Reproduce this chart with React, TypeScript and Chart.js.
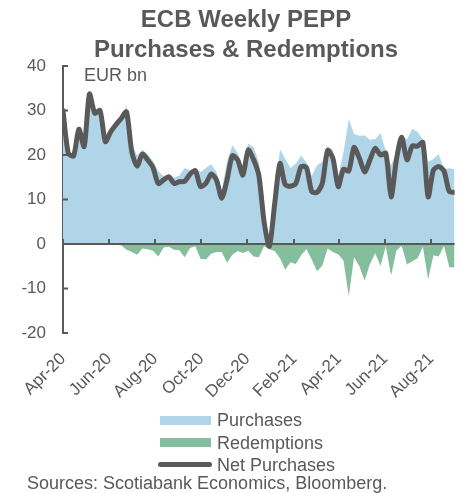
import React, { useEffect, useRef } from 'react';
import { Chart, registerables } from 'chart.js';

Chart.register(...registerables);

// ---- Data ----
const weekDates = [
  '2020-04-03', '2020-04-10', '2020-04-17', '2020-04-24',
  '2020-05-01', '2020-05-08', '2020-05-15', '2020-05-22', '2020-05-29',
  '2020-06-05', '2020-06-12', '2020-06-19', '2020-06-26',
  '2020-07-03', '2020-07-10', '2020-07-17', '2020-07-24', '2020-07-31',
  '2020-08-07', '2020-08-14', '2020-08-21', '2020-08-28',
  '2020-09-04', '2020-09-11', '2020-09-18', '2020-09-25',
  '2020-10-02', '2020-10-09', '2020-10-16', '2020-10-23', '2020-10-30',
  '2020-11-06', '2020-11-13', '2020-11-20', '2020-11-27',
  '2020-12-04', '2020-12-11', '2020-12-18', '2020-12-25',
  '2021-01-01', '2021-01-08', '2021-01-15', '2021-01-22', '2021-01-29',
  '2021-02-05', '2021-02-12', '2021-02-19', '2021-02-26',
  '2021-03-05', '2021-03-12', '2021-03-19', '2021-03-26',
  '2021-04-02', '2021-04-09', '2021-04-16', '2021-04-23', '2021-04-30',
  '2021-05-07', '2021-05-14', '2021-05-21', '2021-05-28',
  '2021-06-04', '2021-06-11', '2021-06-18', '2021-06-25',
  '2021-07-02', '2021-07-09', '2021-07-16', '2021-07-23', '2021-07-30',
  '2021-08-06', '2021-08-13', '2021-08-20', '2021-08-27',
  '2021-09-03',
];

const purchases = [
  30, 20.4, 19.8, 25.8, 21.9, 33.7, 29.4, 30, 23, 25.2,
  27.0, 28.5, 31.0, 22.5, 19.9, 21.2, 20.1, 18.7, 16.4, 15.2,
  15.7, 14.9, 15.4, 17.1, 16.6, 17.0, 16.2, 17.1, 17.9, 16.2,
  12.1, 18.6, 22.2, 20.5, 17.5, 22.6, 21.8, 18.5, 5.5, 0.7,
  10.6, 21.3, 19.1, 17.1, 18.1, 19.9, 18.3, 15.3, 17.7, 18.5,
  22.0, 21.1, 15.2, 20.5, 28.1, 24.7, 24.3, 24.4, 23.4, 23.6,
  24.9, 20.9, 17.7, 20.4, 24.4, 23.5, 25.9, 25.2, 23.4, 18.5,
  19.1, 20.2, 16.8, 17.0, 16.8,
];

const redemptions = [
  0, 0, 0, 0, 0, 0, 0, 0, 0, 0,
  -0.2, -0.3, -1.3, -1.8, -2.4, -1.0, -1.2, -1.5, -2.8, -0.8,
  -0.6, -1.3, -1.4, -3.0, -0.9, -0.5, -3.3, -3.5, -2.2, -1.8,
  -1.8, -4.2, -2.4, -1.6, -2.0, -1.5, -2.8, -3.0, -0.5, -1.2,
  -1.6, -3.2, -5.8, -4.1, -4.5, -2.5, -1.1, -3.5, -6.1, -4.9,
  -1.0, -1.8, -2.3, -3.7, -11.7, -3.0, -5.0, -8.2, -4.5, -2.1,
  -4.9, -0.5, -7.1, -1.5, -0.4, -4.6, -3.9, -3.2, -0.6, -7.9,
  -2.5, -2.8, -0.4, -5.2, -5.2,
];

const netPurchases = [
  30, 20.4, 19.8, 25.8, 21.9, 33.7, 29.4, 30, 23, 25.2,
  26.8, 28.2, 29.7, 20.7, 17.5, 20.2, 18.9, 17.2, 13.6, 14.4,
  15.1, 13.6, 14, 14.1, 15.7, 16.5, 12.9, 13.6, 15.7, 14.4,
  10.3, 14.4, 19.8, 18.9, 15.5, 21.1, 19, 15.5, 5, -0.5,
  9, 18.1, 13.3, 13, 13.6, 17.4, 17.2, 11.8, 11.6, 13.6,
  21, 19.3, 12.9, 16.8, 16.4, 21.7, 19.3, 16.2, 18.9, 21.5,
  20, 20.4, 10.6, 18.9, 24, 18.9, 22, 22, 22.8, 10.6,
  16.6, 17.4, 16.4, 11.8, 11.6,
];

const tickDates = [
  '2020-04-03', '2020-06-03', '2020-08-03', '2020-10-03', '2020-12-03',
  '2021-02-03', '2021-04-03', '2021-06-03', '2021-08-03',
];
const tickLabels = ['Apr-20', 'Jun-20', 'Aug-20', 'Oct-20', 'Dec-20', 'Feb-21', 'Apr-21', 'Jun-21', 'Aug-21'];

const seriesNames = ['Purchases', 'Redemptions', 'Net Purchases'];
const unitLabel = 'EUR bn';
const titleLines = ['ECB Weekly PEPP', 'Purchases & Redemptions'];
const sourceText = 'Sources: Scotiabank Economics, Bloomberg.';

// ---- Styles ----
const GRAY = '#595959';
const BLUE = '#B0D5E9';
const GREEN = '#84BE9C';
const FONT = 'Arial, "Liberation Sans", sans-serif';

const DAY_MS = 86400000;
const t0 = Date.parse(weekDates[0]);
const dayOf = (d: string) => Math.round((Date.parse(d) - t0) / DAY_MS);
const xDays = weekDates.map(dayOf);
const toPoints = (vals: number[]) => vals.map((v, i) => ({ x: xDays[i], y: v }));

const axisPlugin = {
  id: 'excelAxes',
  afterDatasetsDraw(chart: any) {
    const { ctx, chartArea, scales } = chart;
    const xs = scales.x;
    const ys = scales.y;
    const y0 = ys.getPixelForValue(0);
    ctx.save();
    ctx.strokeStyle = GRAY;
    ctx.lineWidth = 2;
    ctx.beginPath();
    ctx.moveTo(chartArea.left, y0);
    ctx.lineTo(chartArea.right, y0);
    tickDates.forEach((d) => {
      const px = Math.round(xs.getPixelForValue(dayOf(d)));
      ctx.moveTo(px, y0);
      ctx.lineTo(px, y0 - 5);
    });
    ys.ticks.forEach((t: any) => {
      const py = ys.getPixelForValue(t.value);
      ctx.moveTo(chartArea.left, py);
      ctx.lineTo(chartArea.left + 5, py);
    });
    ctx.stroke();
    ctx.restore();
  },
};

export default function App() {
  const canvasRef = useRef<HTMLCanvasElement | null>(null);

  useEffect(() => {
    if (!canvasRef.current) return;
    const chart = new Chart(canvasRef.current, {
      type: 'line',
      data: {
        datasets: [
          {
            label: seriesNames[2],
            data: toPoints(netPurchases),
            borderColor: GRAY,
            borderWidth: 5,
            borderCapStyle: 'round',
            borderJoinStyle: 'round',
            pointRadius: 0,
            tension: 0.25,
            fill: false,
            order: 0,
          },
          {
            label: seriesNames[0],
            data: toPoints(purchases),
            borderWidth: 0,
            borderColor: BLUE,
            backgroundColor: BLUE,
            pointRadius: 0,
            tension: 0,
            fill: 'origin',
            order: 2,
          },
          {
            label: seriesNames[1],
            data: toPoints(redemptions),
            borderWidth: 0,
            borderColor: GREEN,
            backgroundColor: GREEN,
            pointRadius: 0,
            tension: 0,
            fill: 'origin',
            order: 1,
          },
        ],
      },
      options: {
        animation: false,
        responsive: false,
        devicePixelRatio: 1,
        layout: { padding: { top: 66, right: 7, left: 0, bottom: 0 } },
        plugins: {
          legend: { display: false },
          title: { display: false },
          tooltip: { enabled: false },
        },
        scales: {
          x: {
            type: 'linear',
            min: 0,
            max: xDays[xDays.length - 1],
            grid: { display: false, drawTicks: false },
            border: { display: false },
            afterBuildTicks: (scale: any) => {
              scale.ticks = tickDates.map((d) => ({ value: dayOf(d) }));
            },
            afterFit: (scale: any) => {
              scale.height = 77;
            },
            ticks: {
              autoSkip: false,
              maxRotation: 45,
              minRotation: 45,
              padding: 16,
              color: GRAY,
              font: { family: FONT, size: 17 },
              callback: (_v: any, i: number) => tickLabels[i],
            },
          },
          y: {
            min: -20,
            max: 40,
            grid: { display: true, drawOnChartArea: false, drawTicks: false },
            border: { display: true, color: GRAY, width: 2 },
            afterFit: (scale: any) => {
              scale.width = 63;
            },
            ticks: {
              stepSize: 10,
              padding: 17,
              color: GRAY,
              font: { family: FONT, size: 17 },
            },
          },
        },
      },
      plugins: [axisPlugin],
    } as any);
    return () => chart.destroy();
  }, []);

  const text: React.CSSProperties = { position: 'absolute', color: GRAY, fontFamily: FONT, whiteSpace: 'nowrap' };

  return (
    <div style={{ position: 'absolute', left: 0, top: 0, width: 462, height: 493, overflow: 'hidden', background: '#fff' }}>
      <canvas ref={canvasRef} width={462} height={410} style={{ position: 'absolute', left: 0, top: 0, display: 'block' }} />
      <div style={{ ...text, left: 30, top: 4, width: 432, textAlign: 'center', fontWeight: 'bold', fontSize: 24, lineHeight: '30px' }}>
        {titleLines.map((l) => (
          <div key={l}>{l}</div>
        ))}
      </div>
      <div style={{ ...text, left: 84, top: 64, fontSize: 18, lineHeight: '22px' }}>{unitLabel}</div>
      <div style={{ position: 'absolute', left: 160, top: 416, width: 51, height: 9, background: BLUE }} />
      <div style={{ ...text, left: 217, top: 409, fontSize: 18, lineHeight: '22px' }}>{seriesNames[0]}</div>
      <div style={{ position: 'absolute', left: 160, top: 438, width: 51, height: 9, background: GREEN }} />
      <div style={{ ...text, left: 217, top: 432, fontSize: 18, lineHeight: '22px' }}>{seriesNames[1]}</div>
      <div style={{ position: 'absolute', left: 158, top: 462, width: 54, height: 5, borderRadius: 3, background: GRAY }} />
      <div style={{ ...text, left: 217, top: 454, fontSize: 18, lineHeight: '22px' }}>{seriesNames[2]}</div>
      <div style={{ ...text, left: 27, top: 472, fontSize: 18, lineHeight: '22px' }}>{sourceText}</div>
    </div>
  );
}
